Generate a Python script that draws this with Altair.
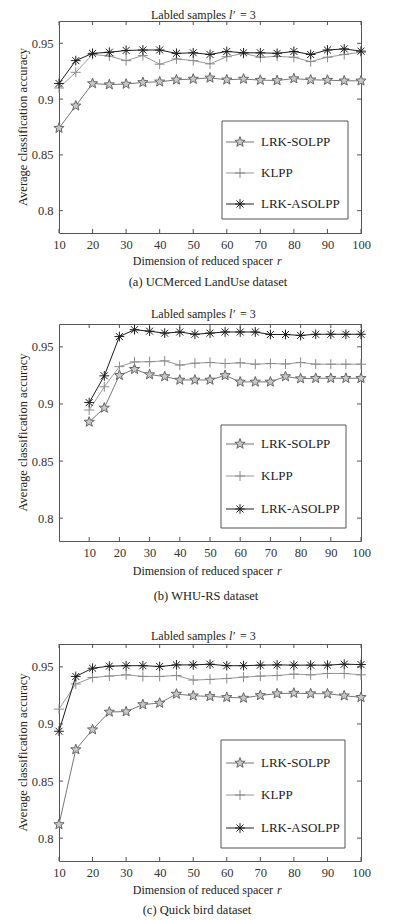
import altair as alt
import numpy as np
import pandas as pd

# ---------------- data ----------------
dims = [10, 15, 20, 25, 30, 35, 40, 45, 50, 55, 60, 65, 70, 75, 80, 85, 90, 95, 100]
methods = ["LRK-SOLPP", "KLPP", "LRK-ASOLPP"]
x_ticks = [10, 20, 30, 40, 50, 60, 70, 80, 90, 100]
y_ticks = [0.8, 0.85, 0.9, 0.95]

# (a) UCMerced LandUse
solpp_a = [0.874, 0.894, 0.914, 0.913, 0.9135, 0.915, 0.9155, 0.9173, 0.918, 0.919,
           0.9173, 0.918, 0.917, 0.9167, 0.9184, 0.9173, 0.917, 0.9164, 0.9164]
klpp_a = [0.910, 0.924, 0.940, 0.9386, 0.9345, 0.939, 0.9313, 0.936, 0.9345, 0.9316,
          0.938, 0.941, 0.9375, 0.9383, 0.9375, 0.9336, 0.9375, 0.940, 0.942]
asolpp_a = [0.914, 0.9345, 0.941, 0.942, 0.9436, 0.944, 0.944, 0.941, 0.9415, 0.940,
            0.9427, 0.9415, 0.9415, 0.941, 0.9427, 0.940, 0.944, 0.945, 0.943]

# (b) WHU-RS
solpp_b = [0.8842, 0.8965, 0.9251, 0.9304, 0.9257, 0.924, 0.921, 0.921, 0.921, 0.925,
           0.9193, 0.9193, 0.9193, 0.924, 0.9222, 0.9225, 0.9225, 0.9225, 0.9225]
klpp_b = [0.8947, 0.915, 0.9327, 0.9368, 0.937, 0.9377, 0.934, 0.9357, 0.9363, 0.9354,
          0.936, 0.9348, 0.9354, 0.935, 0.9363, 0.9348, 0.9348, 0.9348, 0.9348]
asolpp_b = [0.9012, 0.9246, 0.959, 0.965, 0.9637, 0.962, 0.963, 0.961, 0.962, 0.963,
            0.963, 0.963, 0.9608, 0.9608, 0.960, 0.961, 0.961, 0.961, 0.961]

# (c) Quick bird
solpp_c = [0.812, 0.8776, 0.895, 0.9105, 0.9108, 0.917, 0.9183, 0.9262, 0.9247, 0.9241,
           0.9233, 0.9227, 0.925, 0.9265, 0.927, 0.9265, 0.9265, 0.9247, 0.9233]
klpp_c = [0.913, 0.935, 0.9407, 0.9419, 0.943, 0.9416, 0.9416, 0.9424, 0.9384, 0.939,
          0.9398, 0.941, 0.9419, 0.9424, 0.9436, 0.943, 0.9442, 0.9442, 0.943]
asolpp_c = [0.8936, 0.9416, 0.9488, 0.9506, 0.951, 0.951, 0.9503, 0.9517, 0.9517, 0.9523,
            0.951, 0.951, 0.9515, 0.9517, 0.9515, 0.9515, 0.9515, 0.9523, 0.952]

captions = ["(a) UCMerced LandUse dataset", "(b) WHU-RS dataset", "(c) Quick bird dataset"]

# ---------------- styles ----------------
FONT = "'Liberation Serif', 'Times New Roman', Times, serif"
W = 302
k = np.arange(10)
ang = np.deg2rad(-90 + 36 * k)
rad = np.where(k % 2 == 0, 1.0, 0.42)
STAR = "M" + "L".join(f"{r*np.cos(a):.3f},{r*np.sin(a):.3f}" for r, a in zip(rad, ang)) + "Z"
PLUS = "M-1,0L1,0M0,-1L0,1"
AST = "M-1,0L1,0M0,-1L0,1M-0.72,-0.72L0.72,0.72M-0.72,0.72L0.72,-0.72"

STYLE = {
    "LRK-SOLPP": dict(line="#777777", shape=STAR, filled=True, fill="#c8c8c8", stroke="#666666", size=115),
    "KLPP": dict(line="#999999", shape=PLUS, filled=False, fill=None, stroke="#8a8a8a", size=100),
    "LRK-ASOLPP": dict(line="#1e1e1e", shape=AST, filled=False, fill=None, stroke="#1e1e1e", size=95),
}

one = pd.DataFrame({"a": [0]})


def point_kw(m):
    st = STYLE[m]
    kw = dict(shape=st["shape"], filled=st["filled"], stroke=st["stroke"], size=st["size"],
              strokeWidth=1, opacity=1)
    if st["fill"]:
        kw["fill"] = st["fill"]
    return kw


def text(s, x, y, size=12, align="center", style="normal", baseline="middle", angle=None):
    kw = dict(text=s, font=FONT, fontSize=size, color="#222", align=align,
              baseline=baseline, fontStyle=style)
    if angle is not None:
        kw["angle"] = angle
    return alt.Chart(one).mark_text(**kw).encode(x=alt.value(x), y=alt.value(y))


def panel(series, xdom, H, cfg):
    xs = alt.Scale(domain=xdom, nice=False, zero=False)
    ys = alt.Scale(domain=[0.78, 0.97], nice=False, zero=False)
    xax = alt.Axis(values=x_ticks, grid=False, ticks=False, tickSize=0, domain=False,
                   labelFont=FONT, labelFontSize=12.5, labelColor="#333", labelPadding=5,
                   labelFlush=False, title=None, format="d")
    yax = alt.Axis(values=y_ticks, grid=False, ticks=False, tickSize=0, domain=False,
                   labelFont=FONT, labelFontSize=12.5, labelColor="#333", labelPadding=6,
                   title=None, format="~g")
    X = lambda f: alt.X(f, scale=xs, axis=xax)
    Y = lambda f: alt.Y(f, scale=ys, axis=yax)

    layers = []
    # anchor (white) to pin the layout extents
    layers.append(alt.Chart(one).mark_rule(color="white", strokeWidth=1).encode(
        x=alt.value(-50), y=alt.value(-cfg["top"]), y2=alt.value(H + cfg["bottom"])))

    # inside ticks (MATLAB style) on all four sides
    tx = pd.DataFrame({"t": x_ticks})
    ty = pd.DataFrame({"t": y_ticks})
    for y0, y1 in [(0, 4), (H - 4, H)]:
        layers.append(alt.Chart(tx).mark_rule(color="#555", strokeWidth=1).encode(
            x=X("t:Q"), y=alt.value(y0), y2=alt.value(y1)))
    for x0, x1 in [(0, 4), (W - 4, W)]:
        layers.append(alt.Chart(ty).mark_rule(color="#555", strokeWidth=1).encode(
            y=Y("t:Q"), x=alt.value(x0), x2=alt.value(x1)))

    # series
    for m, vals in zip(methods, series):
        df = pd.DataFrame({"r": dims, "acc": vals})
        base = alt.Chart(df)
        layers.append(base.mark_line(color=STYLE[m]["line"], strokeWidth=1).encode(
            x=X("r:Q"), y=Y("acc:Q")))
        layers.append(base.mark_point(**point_kw(m)).encode(x=X("r:Q"), y=Y("acc:Q")))

    # legend box
    lb = cfg["legend"]
    layers.append(alt.Chart(one).mark_rect(fill="white", stroke="#555", strokeWidth=1).encode(
        x=alt.value(lb[0]), x2=alt.value(lb[1]), y=alt.value(H - lb[2]), y2=alt.value(H - lb[3])))
    for m, dy in zip(methods, cfg["entries"]):
        yy = H - dy
        layers.append(alt.Chart(one).mark_rule(color=STYLE[m]["line"], strokeWidth=1).encode(
            x=alt.value(167), x2=alt.value(195), y=alt.value(yy)))
        layers.append(alt.Chart(one).mark_point(**point_kw(m)).encode(x=alt.value(181), y=alt.value(yy)))
        layers.append(text(m, 202, yy, size=13, align="left"))

    # title  "Labled samples l' = 3"
    tb = cfg["tbase"]
    layers.append(text("Labled samples", 167, tb, align="right", baseline="alphabetic"))
    layers.append(text("l\u2032", 170, tb, align="left", style="italic", baseline="alphabetic"))
    layers.append(text("= 3", 181, tb, align="left", baseline="alphabetic"))

    # y title
    layers.append(text("Average classification accuracy", -36, H / 2, size=12.5, angle=270))

    # x title + caption
    layers.append(text("Dimension of reduced spacer", 214, H + cfg["xt"], align="right"))
    layers.append(text("r", 218, H + cfg["xt"], align="left", style="italic"))
    layers.append(text(cfg["cap"], cfg["capx"], H + cfg["capy"], size=12.5))

    return alt.layer(*layers).properties(width=W, height=H)


p1 = panel([solpp_a, klpp_a, asolpp_a], [10, 100], 212,
           dict(top=12, bottom=69, legend=(163, 289, 112, 14), entries=(91, 60, 29),
                tbase=-2, xt=28, cap=captions[0], capx=149, capy=49))
p2 = panel([solpp_b, klpp_b, asolpp_b], [0, 100], 217,
           dict(top=20, bottom=83, legend=(162, 287, 116, 13), entries=(97, 65, 32),
                tbase=-6, xt=30, cap=captions[1], capx=147, capy=55))
p3 = panel([solpp_c, klpp_c, asolpp_c], [10, 100], 217,
           dict(top=18, bottom=56, legend=(162, 286, 121, 13), entries=(98, 66, 33),
                tbase=-4, xt=29, cap=captions[2], capx=138, capy=49))

chart = alt.vconcat(p1, p2, p3, spacing=0).properties(
    padding=0, background="white"
).configure_view(stroke="#555", strokeWidth=1)

chart.save("out.html", embed_options={"renderer": "svg", "actions": False})
